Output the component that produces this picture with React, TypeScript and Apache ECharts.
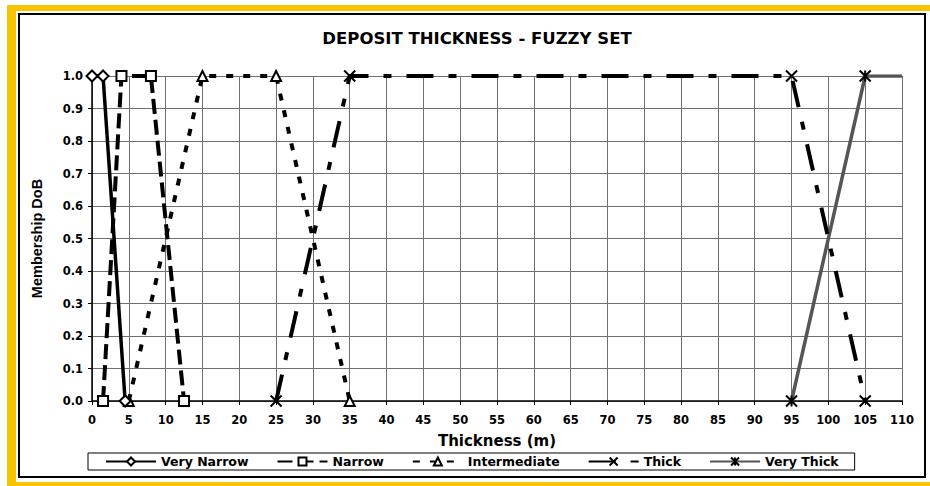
import React, { useEffect, useRef } from "react";
import * as echarts from "echarts";

const seriesNames = ["Very Narrow", "Narrow", "Intermediate", "Thick", "Very Thick"];
const veryNarrowX = [0, 1.5, 4.5];
const veryNarrowY = [1, 1, 0];
const narrowX = [1.5, 4, 8, 12.5];
const narrowY = [0, 1, 1, 0];
const intermediateX = [5, 15, 25, 35];
const intermediateY = [0, 1, 1, 0];
const thickX = [25, 35, 95, 105];
const thickY = [0, 1, 1, 0];
const veryThickX = [95, 105, 110];
const veryThickY = [0, 1, 1];

const pairs = (xs: number[], ys: number[]) => xs.map((x, i) => [x, ys[i]]);

const X_SYM = "path://M0,0L10,10M10,0L0,10";
const AST_SYM = "path://M0,0L10,10M10,0L0,10M5,0L5,10";

export default function App() {
  const ref = useRef<HTMLDivElement>(null);
  useEffect(() => {
    if (!ref.current) return;
    const chart = echarts.init(ref.current, null, { renderer: "svg" });
    const tickFont = { fontFamily: "DejaVu Sans", fontWeight: "bold" as const, fontSize: 11.5, color: "#000" };
    const yellow = "#F6C400";
    chart.setOption({
      animation: false,
      backgroundColor: "#fff",
      graphic: [
        { type: "rect", z: -10, shape: { x: 7, y: 5, width: 923, height: 6 }, style: { fill: yellow } },
        { type: "rect", z: -10, shape: { x: 7, y: 5, width: 9, height: 481 }, style: { fill: yellow } },
        { type: "rect", z: -10, shape: { x: 7, y: 482, width: 923, height: 4 }, style: { fill: yellow } },
        { type: "rect", z: -9, shape: { x: 926, y: 11, width: 4, height: 471 }, style: { fill: "#fff" } },
        { type: "rect", z: -8, shape: { x: 19, y: 14, width: 906, height: 463 }, style: { fill: "#fff", stroke: "#000", lineWidth: 2 } },
      ],
      title: {
        text: "DEPOSIT THICKNESS - FUZZY SET",
        left: 472,
        textAlign: "center",
        top: 25,
        textStyle: { fontFamily: "DejaVu Sans", fontWeight: "bold", fontSize: 16.5, color: "#000" },
      },
      grid: { left: 92, right: 28, top: 76, bottom: 85 },
      xAxis: {
        type: "value",
        min: 0,
        max: 110,
        interval: 5,
        name: "Thickness (m)",
        nameLocation: "middle",
        nameGap: 32,
        nameTextStyle: { fontFamily: "DejaVu Sans", fontWeight: "bold", fontSize: 15, color: "#000" },
        axisLine: { lineStyle: { color: "#000", width: 1.5 } },
        axisTick: { show: true, length: 4, lineStyle: { color: "#000" } },
        axisLabel: { ...tickFont, margin: 13 },
        splitLine: { show: true, lineStyle: { color: "#707070", width: 1 } },
      },
      yAxis: {
        type: "value",
        min: 0,
        max: 1,
        interval: 0.1,
        name: "Membership DoB",
        nameLocation: "middle",
        nameGap: 48,
        nameTextStyle: { fontFamily: "Liberation Sans", fontWeight: "bold", fontSize: 14.5, color: "#000" },
        axisLine: { show: true, lineStyle: { color: "#000", width: 1.5 } },
        axisTick: { show: true, length: 4, lineStyle: { color: "#000" } },
        axisLabel: { ...tickFont, margin: 9, formatter: (v: number) => v.toFixed(1) },
        splitLine: { show: true, lineStyle: { color: "#707070", width: 1 } },
      },
      legend: {
        left: 88,
        top: 453,
        width: 770,
        padding: [2, 16, 2, 17],
        borderColor: "#000",
        borderWidth: 1,
        itemWidth: 50,
        itemHeight: 10,
        itemGap: 28,
        textStyle: { fontFamily: "DejaVu Sans", fontWeight: "bold", fontSize: 12.5, color: "#000" },
        data: seriesNames,
      },
      series: [
        {
          name: seriesNames[0],
          type: "line",
          data: pairs(veryNarrowX, veryNarrowY),
          symbol: "emptyDiamond",
          symbolSize: 11,
          itemStyle: { color: "#000", borderWidth: 1.5 },
          lineStyle: { color: "#000", width: 3.5, type: "solid" },
          z: 5,
        },
        {
          name: seriesNames[1],
          type: "line",
          data: pairs(narrowX, narrowY),
          symbol: "emptyRect",
          symbolSize: 10,
          itemStyle: { color: "#000", borderWidth: 1.5 },
          lineStyle: { color: "#000", width: 4, type: [15, 6] },
          z: 4,
        },
        {
          name: seriesNames[2],
          type: "line",
          data: pairs(intermediateX, intermediateY),
          symbol: "emptyTriangle",
          symbolSize: 10,
          itemStyle: { color: "#000", borderWidth: 1.5 },
          lineStyle: { color: "#000", width: 4, type: [7, 10] },
          z: 3,
        },
        {
          name: seriesNames[3],
          type: "line",
          data: pairs(thickX, thickY),
          symbol: X_SYM,
          symbolSize: 11,
          itemStyle: { color: "#000", borderColor: "#000", borderWidth: 2 },
          lineStyle: { color: "#000", width: 4, type: [27, 15, 8, 15] },
          z: 3,
        },
        {
          name: seriesNames[4],
          type: "line",
          data: pairs(veryThickX, veryThickY).map((p, i) =>
            i === veryThickX.length - 1 ? { value: p, symbol: "none" } : { value: p }
          ),
          symbol: AST_SYM,
          symbolSize: 11,
          itemStyle: { color: "#000", borderColor: "#000", borderWidth: 2 },
          lineStyle: { color: "#555", width: 3.5, type: "solid" },
          z: 2,
        },
      ],
    });
    return () => chart.dispose();
  }, []);
  return <div ref={ref} style={{ position: "fixed", left: 0, top: 0, width: 930, height: 486 }} />;
}
